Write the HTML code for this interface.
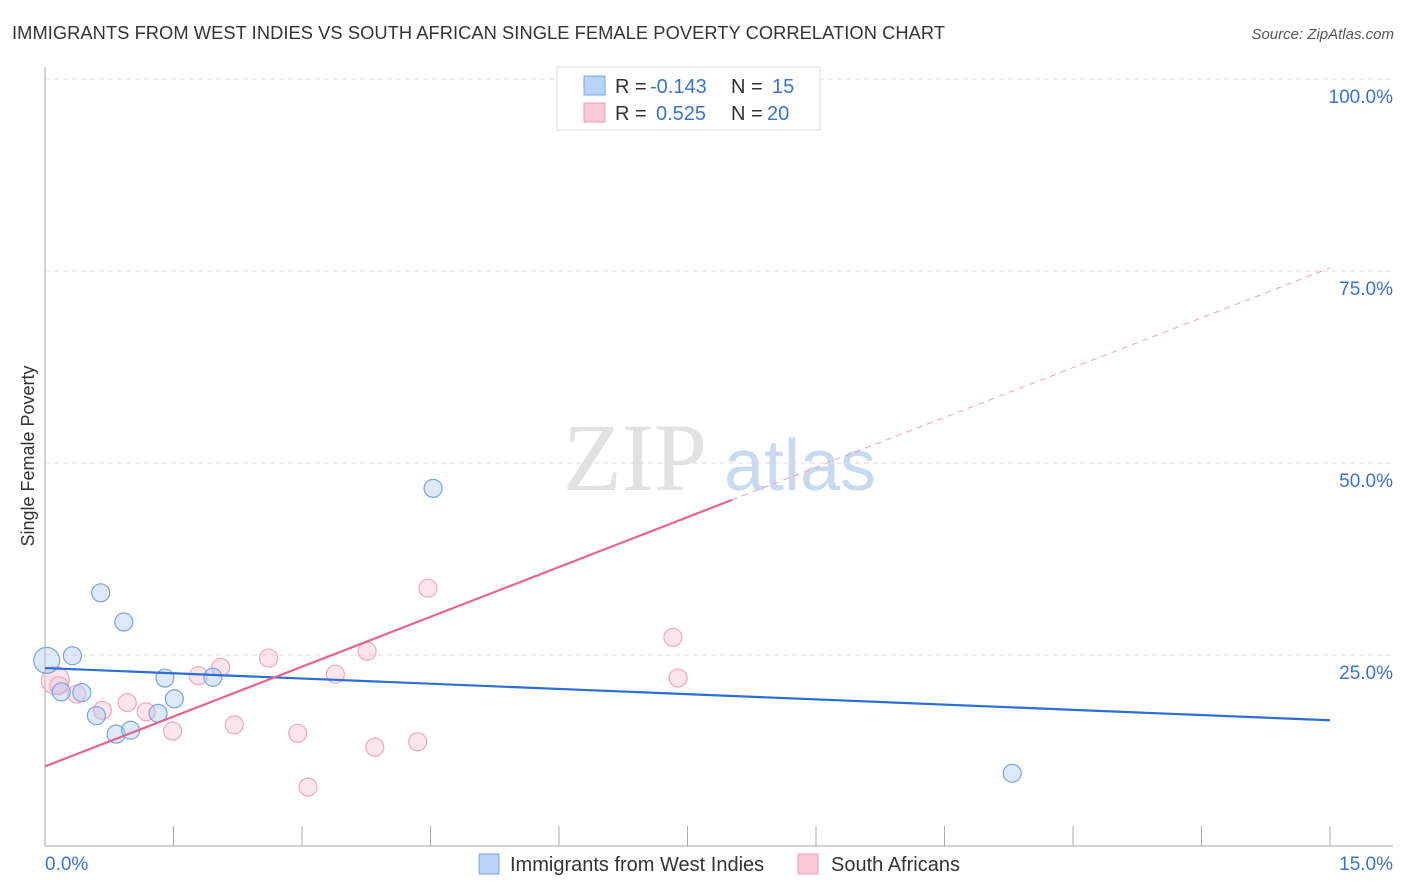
<!DOCTYPE html>
<html><head><meta charset="utf-8"><style>
body{margin:0;background:#fff;font-family:"Liberation Sans",sans-serif;}
svg{display:block}
</style></head><body>
<svg id="chart" width="1406" height="892" xmlns="http://www.w3.org/2000/svg" font-family="Liberation Sans, sans-serif">
<text x="12" y="39" font-size="18.3" fill="#333" textLength="933">IMMIGRANTS FROM WEST INDIES VS SOUTH AFRICAN SINGLE FEMALE POVERTY CORRELATION CHART</text>
<text x="1394" y="39" font-size="15" fill="#555" font-style="italic" text-anchor="end">Source: ZipAtlas.com</text>
<text x="34" y="456" font-size="18" fill="#333" text-anchor="middle" transform="rotate(-90 34 456)">Single Female Poverty</text>
<g>
<text x="635" y="490" font-size="96" fill="#e2e2e2" font-family="Liberation Serif, serif" text-anchor="middle">ZIP</text>
<text x="800" y="490" font-size="72" fill="#c9daf0" text-anchor="middle">atlas</text>
</g>
<g id="grid"></g><g id="axes"></g><g id="marks"></g>
<g>
<rect x="557" y="67" width="263" height="63" fill="#fff" stroke="#ddd"/>
<rect x="584" y="76" width="21" height="19" fill="#b8d3f5" stroke="#7aa6e0"/>
<rect x="584" y="103" width="21" height="19" fill="#fbc9d7" stroke="#ee9ab3"/>
<text x="615" y="93" font-size="20" fill="#333">R = <tspan x="650" fill="#3a73d0">-0.143</tspan><tspan x="731">N = </tspan><tspan x="772" fill="#3a73d0">15</tspan></text>
<text x="615" y="120" font-size="20" fill="#333">R = <tspan x="656" fill="#3a73d0">0.525</tspan><tspan x="731">N = </tspan><tspan x="767" fill="#3a73d0">20</tspan></text>
</g>
<g>
<rect x="479" y="854" width="20" height="20" fill="#b8d3f5" stroke="#7aa6e0"/>
<text x="510" y="871" font-size="20" fill="#333">Immigrants from West Indies</text>
<rect x="798" y="854" width="20" height="20" fill="#fbc9d7" stroke="#ee9ab3"/>
<text x="831" y="871" font-size="20" fill="#333">South Africans</text>
</g>
</svg>
<script>
const yTicks=[25,50,75,100];
const xTickLabels=["0.0%","15.0%"];
const blueX=[0.02,0.19,0.32,0.43,0.60,0.65,0.83,0.92,1.00,1.32,1.40,1.51,1.96,4.53,11.29];
const blueY=[24.3,20.2,24.9,20.1,17.1,33.1,14.7,29.3,15.2,17.4,22.0,19.3,22.1,46.7,9.6];
const pinkX=[0.12,0.37,0.67,0.96,1.18,1.49,1.79,2.05,2.21,2.61,2.95,3.07,3.39,3.76,3.85,4.35,4.47,7.33,7.39,0.16];
const pinkY=[21.7,19.9,17.8,18.8,17.6,15.1,22.3,23.4,15.9,24.6,14.8,7.8,22.5,25.5,13.0,13.7,33.7,27.3,22.0,21.0];
const blueTrend=[23.3,16.5];
const pinkTrend=[10.5,75.4];
const pinkSolidEnd=8.02;
const X=v=>45+v/15*1285, Y=v=>847-v/100*768;
const NS="http://www.w3.org/2000/svg";
function mk(p,t,a){const e=document.createElementNS(NS,t);for(const k in a)e.setAttribute(k,a[k]);p.appendChild(e);return e;}
const grid=document.getElementById('grid'),axes=document.getElementById('axes'),marks=document.getElementById('marks');
yTicks.forEach(t=>{
 const l=mk(grid,'line',{x1:45,x2:1393,y1:Y(t),y2:Y(t),stroke:'#ddd','stroke-dasharray':'5,4'});
 
 
 const tx=mk(grid,'text',{x:1393,y:Y(t)+24,'font-size':19,fill:'#3a73d0','text-anchor':'end'});tx.textContent=t.toFixed(1)+'%';
 
 
});
let a=mk(axes,'line',{x1:45,x2:45,y1:67,y2:846,stroke:'#aaa'});


a=mk(axes,'line',{x1:45,x2:1393,y1:846,y2:846,stroke:'#aaa'});


for(let i=1;i<=10;i++){const tk=mk(axes,'line',{x1:X(i*1.5),x2:X(i*1.5),y1:826,y2:846,stroke:'#aaa'});
 
 }
[[0,'start'],[15,'end']].forEach((d,i)=>{const t=mk(axes,'text',{x:i?1393:45,y:870,'font-size':19,fill:'#3a73d0','text-anchor':d[1]});t.textContent=xTickLabels[i];
 
 });
pinkX.forEach((x,i)=>{const c=mk(marks,'circle',{cx:X(x),cy:Y(pinkY[i]),r:i===0?14:9,fill:'rgba(248,190,208,0.4)',stroke:'#f0a8be','stroke-width':1.2});
 
 });
blueX.forEach((x,i)=>{const c=mk(marks,'circle',{cx:X(x),cy:Y(blueY[i]),r:i===0?13:9,fill:'rgba(170,200,240,0.4)',stroke:'#7aa3e2','stroke-width':1.2});
 
 });
let t=mk(marks,'line',{x1:X(0),y1:Y(blueTrend[0]),x2:X(15),y2:Y(blueTrend[1]),stroke:'#2a6fd6','stroke-width':2.2});


const pv=x=>pinkTrend[0]+(pinkTrend[1]-pinkTrend[0])*x/15;
t=mk(marks,'line',{x1:X(0),y1:Y(pv(0)),x2:X(pinkSolidEnd),y2:Y(pv(pinkSolidEnd)),stroke:'#e8648f','stroke-width':2.2});


t=mk(marks,'line',{x1:X(pinkSolidEnd),y1:Y(pv(pinkSolidEnd)),x2:X(15),y2:Y(pv(15)),stroke:'#eea0b8','stroke-width':1,'stroke-dasharray':'6,5'});


</script>
</body></html>
